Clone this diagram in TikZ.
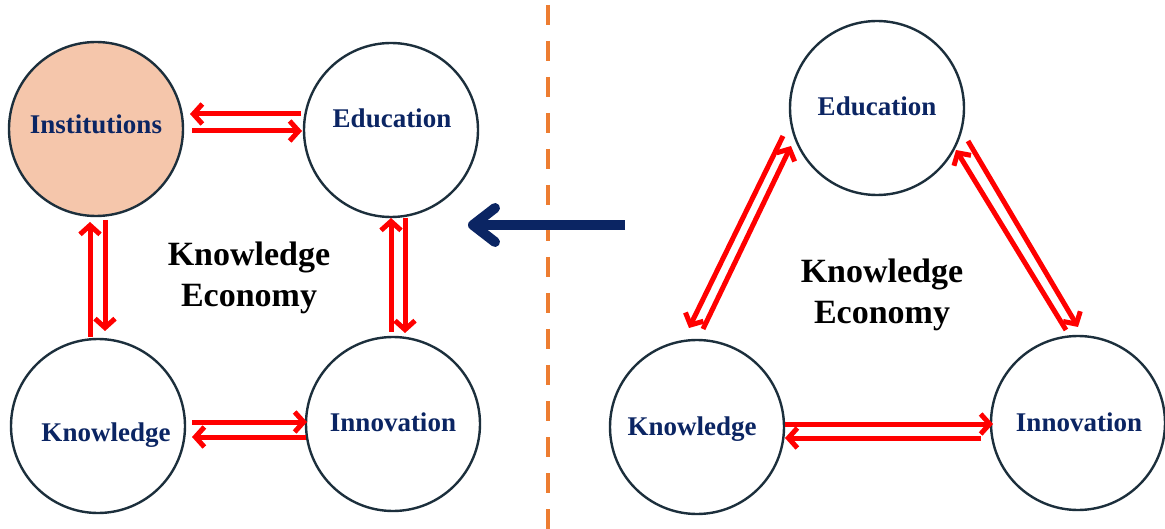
\documentclass[tikz,border=0pt]{standalone}
\usepackage{fontspec}
\setmainfont{Liberation Serif}
\usetikzlibrary{arrows.meta}
\definecolor{navy}{HTML}{0B2563}
\definecolor{rimcol}{HTML}{1C2F3C}
\definecolor{peach}{HTML}{F5C6AB}
\definecolor{divider}{HTML}{ED7D31}
\begin{document}
\begin{tikzpicture}[x=1pt,y=-1pt,
  circ/.style={circle, draw=rimcol, line width=2.4pt, fill=white, minimum size=174pt, inner sep=0pt},
  lbl/.style={anchor=base, text=navy, font=\bfseries\fontsize{27}{30}\selectfont, inner sep=0pt},
  ctr/.style={align=center, text=black, font=\bfseries\fontsize{34}{41}\selectfont, inner sep=0pt},
  rarr/.style={draw=red, line width=5pt, -{Straight Barb[length=9pt,width=20pt]}},
  bigarr/.style={draw=navy, line width=10pt, -{Straight Barb[length=22pt,width=34pt,round]}},
  divline/.style={draw=divider, line width=4pt, dash pattern=on 20pt off 16pt}]
\useasboundingbox[fill=white] (0,0) rectangle (1165,529);

% divider between the two schemes
\coordinate (divtop) at (548,5);
\coordinate (divbot) at (548,529);
\draw[divline] (divtop) -- (divbot);

% ---------- left scheme: four elements ----------
\node[circ, fill=peach] (inst) at (96,129) {};
\node[circ] (eduL) at (391,130) {};
\node[circ] (knowL) at (98,426) {};
\node[circ] (innoL) at (393,424) {};
\node[lbl] (instT) at (96,134) {Institutions};
\node[lbl] (eduLT) at (392,128) {Education};
\node[lbl] (knowLT) at (106,441) {Knowledge};
\node[lbl] (innoLT) at (393,431) {Innovation};
\node[ctr] (keL) at (249,278) {Knowledge\\Economy};

% arrow end points, left scheme
\coordinate (ie1s) at (301,114); \coordinate (ie1e) at (190,114);
\coordinate (ie2s) at (192,131); \coordinate (ie2e) at (302,131);
\coordinate (ik1s) at (90,337);  \coordinate (ik1e) at (90,222);
\coordinate (ik2s) at (105,220); \coordinate (ik2e) at (105,331);
\coordinate (en1s) at (391,332); \coordinate (en1e) at (391,218);
\coordinate (en2s) at (405,218); \coordinate (en2e) at (405,333);
\coordinate (kn1s) at (192,422); \coordinate (kn1e) at (307,422);
\coordinate (kn2s) at (306,437); \coordinate (kn2e) at (192,437);
\draw[rarr] (ie1s) -- (ie1e);
\draw[rarr] (ie2s) -- (ie2e);
\draw[rarr] (ik1s) -- (ik1e);
\draw[rarr] (ik2s) -- (ik2e);
\draw[rarr] (en1s) -- (en1e);
\draw[rarr] (en2s) -- (en2e);
\draw[rarr] (kn1s) -- (kn1e);
\draw[rarr] (kn2s) -- (kn2e);

% ---------- right scheme: three elements ----------
\node[circ] (eduR) at (877,108) {};
\node[circ] (knowR) at (697,427) {};
\node[circ] (innoR) at (1078,423) {};
\node[lbl] (eduRT) at (877,116) {Education};
\node[lbl] (knowRT) at (692,435) {Knowledge};
\node[lbl] (innoRT) at (1079,431) {Innovation};
\node[ctr] (keR) at (882,295) {Knowledge\\Economy};

% arrow end points, right scheme
\coordinate (ek1s) at (783,136);  \coordinate (ek1e) at (689,328);
\coordinate (ek2s) at (703,329);  \coordinate (ek2e) at (791,146);
\coordinate (ei1s) at (1066,330); \coordinate (ei1e) at (956,150);
\coordinate (ei2s) at (968,141);  \coordinate (ei2e) at (1078,327);
\coordinate (ki1s) at (785,424);  \coordinate (ki1e) at (993,424);
\coordinate (ki2s) at (981,438);  \coordinate (ki2e) at (785,438);
\draw[rarr] (ek1s) -- (ek1e);
\draw[rarr] (ek2s) -- (ek2e);
\draw[rarr] (ei1s) -- (ei1e);
\draw[rarr] (ei2s) -- (ei2e);
\draw[rarr] (ki1s) -- (ki1e);
\draw[rarr] (ki2s) -- (ki2e);

% transition arrow from the three-element to the four-element scheme
\coordinate (bigfrom) at (625,225);
\coordinate (bigto) at (468,225);
\draw[bigarr] (bigfrom) -- (bigto);
\end{tikzpicture}
\end{document}
